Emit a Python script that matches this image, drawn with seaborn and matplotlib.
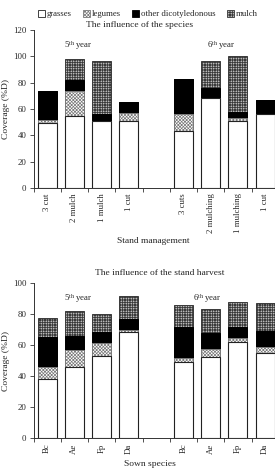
import matplotlib
matplotlib.use("Agg")
import matplotlib.pyplot as plt
import seaborn as sns
import pandas as pd
import numpy as np
from matplotlib.patches import Patch

# ---------------- data ----------------
top_labels = ["3 cut", "2 mulch", "1 mulch", "1 cut", "3 cuts", "2 mulching", "1 mulching", "1 cut"]
top_grasses = [49, 54.5, 51, 51, 43.5, 68, 51, 56.5]
top_legumes = [2.5, 19.5, 0, 6, 13, 0, 2, 0]
top_other = [22.5, 8, 5.5, 8, 26.5, 8, 4.5, 10]
top_mulch = [0, 15.7, 40, 0, 0, 20.5, 43, 0]

bot_labels = ["Bc", "Ae", "Fp", "Da", "Bc", "Ae", "Fp", "Da"]
bot_grasses = [38.3, 45.8, 53, 68.6, 49, 52.7, 62.2, 54.8]
bot_legumes = [7.5, 11.2, 8.6, 1, 2.8, 4.9, 2.3, 4.1]
bot_other = [19.4, 9, 6.7, 7.3, 20.2, 10.1, 7.5, 10.6]
bot_mulch = [12.2, 16.4, 11.8, 15.2, 14, 15.5, 15.7, 17.6]

legend_names = ["grasses", "legumes", "other dicotyledonous", "mulch"]

# ---------------- style ----------------
sns.set_style("ticks")
plt.rcParams["font.family"] = ["Liberation Serif", "DejaVu Serif"]
plt.rcParams["mathtext.fontset"] = "custom"
plt.rcParams["mathtext.rm"] = "Liberation Serif"
plt.rcParams["mathtext.it"] = "Liberation Serif:italic"
plt.rcParams["hatch.linewidth"] = 0.5
FS = 6.3

W, H = 275, 468
fig = plt.figure(figsize=(W / 100, H / 100), dpi=100)

slot = 27.25
ax_left = 33.5
ax_w = 9 * slot


def make_ax(top_px, bottom_px):
    return fig.add_axes([ax_left / W, (H - bottom_px) / H, ax_w / W, (bottom_px - top_px) / H])


ax1 = make_ax(30, 188)
ax2 = make_ax(283.3, 438.3)

HATCH_LEG = "x" * 10
HATCH_MUL = "+" * 10
LEG_COL = "#7a7a7a"
MUL_COL = "#3a3a3a"


def draw_panel(ax, labels, g, l, o, m, ymax, xlabel, xlab_y, xlab_x, yr_pos, yr_y):
    keys = [f"k{i}" for i in range(4)] + ["gap"] + [f"k{i}" for i in range(4, 8)]
    ids = [f"k{i}" for i in range(8)]
    g = np.array(g); l = np.array(l); o = np.array(o); m = np.array(m)
    df = pd.DataFrame({
        "id": ids,
        "c_all": g + l + o + m,
        "c_oth": g + l + o,
        "c_leg": g + l,
        "c_gra": g,
    })
    common = dict(data=df, x="id", order=keys, ax=ax, width=0.7, saturation=1,
                  errorbar=None)
    sns.barplot(y="c_all", color="white", hatch=HATCH_MUL, edgecolor=MUL_COL,
                linewidth=0.7, **common)
    sns.barplot(y="c_oth", color="black", edgecolor="black", linewidth=0.7, **common)
    sns.barplot(y="c_leg", color="white", hatch=HATCH_LEG, edgecolor=LEG_COL,
                linewidth=0.7, **common)
    sns.barplot(y="c_gra", color="white", edgecolor="#222222", linewidth=0.8, **common)

    ax.set_xlim(-0.5, 8.5)
    ax.set_ylim(0, ymax)
    ax.set_yticks(np.arange(0, ymax + 1, 20))
    pos = [0, 1, 2, 3, 5, 6, 7, 8]
    ax.set_xticks(pos)
    ax.set_xticklabels(labels, rotation=90, fontsize=FS, va="top")
    ax.set_xticks(np.arange(-0.5, 8.6, 1), minor=True)
    ax.tick_params(axis="x", which="major", length=0, pad=4)
    ax.tick_params(axis="x", which="minor", length=3, width=0.6, color="#333333")
    ax.tick_params(axis="y", length=3, width=0.6, color="#333333", labelsize=FS, pad=2)
    for side in ["top", "right"]:
        ax.spines[side].set_visible(False)
    for side in ["left", "bottom"]:
        ax.spines[side].set_linewidth(0.7)
        ax.spines[side].set_color("#333333")
    ax.set_ylabel("Coverage (%D)", fontsize=FS + 0.5)
    ax.yaxis.set_label_coords(-0.097, 0.5)
    ax.set_xlabel(xlabel, fontsize=FS + 0.5)
    ax.xaxis.set_label_coords(xlab_x, xlab_y)
    ax.text(yr_pos[0], yr_y, r"5$^{\mathrm{th}}$ year", ha="center", va="center", fontsize=FS)
    ax.text(yr_pos[1], yr_y, r"6$^{\mathrm{th}}$ year", ha="center", va="center", fontsize=FS)


draw_panel(ax1, top_labels, top_grasses, top_legumes, top_other, top_mulch, 120,
           "Stand management", -0.307, 0.488, (1.15, 6.4), 108.6)
draw_panel(ax2, bot_labels, bot_grasses, bot_legumes, bot_other, bot_mulch, 100,
           "Sown species", -0.143, 0.476, (1.15, 5.87), 89.9)

fig.text(140 / W, 1 - 25 / H, "The influence of the species", ha="center", va="center",
         fontsize=FS + 0.5)
fig.text(160 / W, 1 - 273 / H, "The influence of the stand harvest", ha="center",
         va="center", fontsize=FS + 0.5)

handles = [
    Patch(facecolor="white", edgecolor="#222222", linewidth=0.6),
    Patch(facecolor="white", edgecolor=LEG_COL, hatch=HATCH_LEG, linewidth=0.6),
    Patch(facecolor="black", edgecolor="black", linewidth=0.6),
    Patch(facecolor="white", edgecolor=MUL_COL, hatch=HATCH_MUL, linewidth=0.6),
]
fig.legend(handles, legend_names, loc="center", bbox_to_anchor=(148 / W, 1 - 14 / H),
           ncol=4, frameon=False, fontsize=FS, handlelength=0.8, handleheight=0.8,
           handletextpad=0.2, columnspacing=1.3, borderaxespad=0, borderpad=0)

fig.savefig("out.png", dpi=100)
